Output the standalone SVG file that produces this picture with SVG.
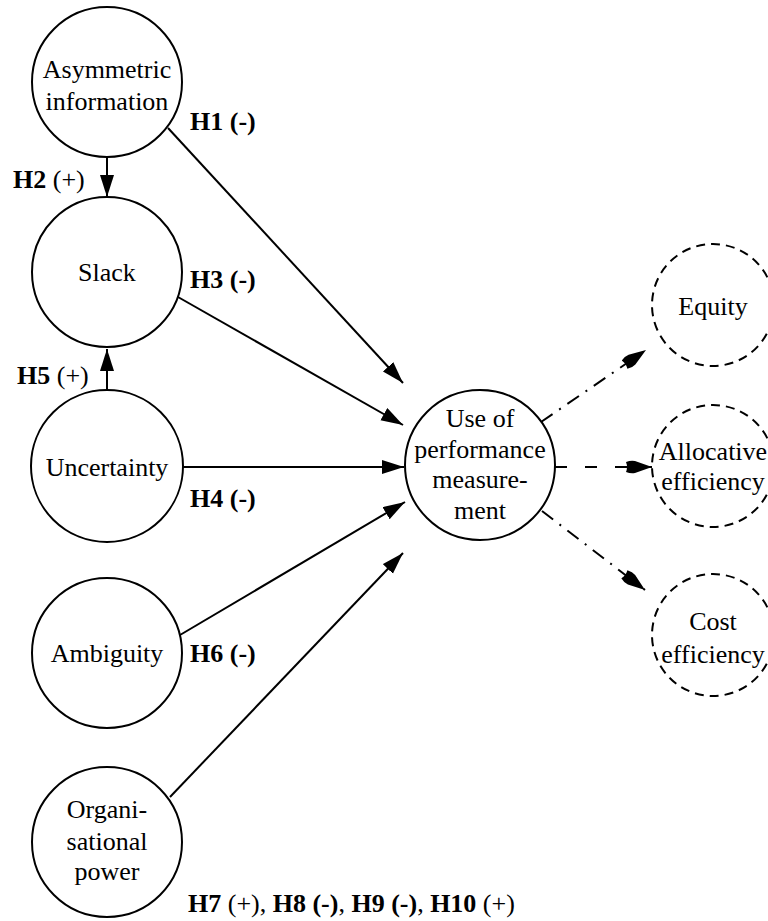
<svg xmlns="http://www.w3.org/2000/svg" width="768" height="921" viewBox="0 0 768 921">
<style>
.n{fill:#fff;stroke:#000;stroke-width:2}
.d{fill:#fff;stroke:#000;stroke-width:2;stroke-dasharray:9,6}
.t{font-size:26px;fill:#000;text-anchor:middle}
.l{font-size:26px;fill:#000}
.b{font-weight:bold}
.c{stroke:#000;stroke-width:2;fill:none}
.dd{stroke-dasharray:14,8,2,8}
.da{stroke-dasharray:12,18}
</style>
<defs>
<marker id="a" markerUnits="userSpaceOnUse" markerWidth="24" markerHeight="16" refX="22" refY="7" orient="auto"><path d="M0,0 L22,7 L0,14 z" fill="#000"/></marker>
<marker id="s" markerUnits="userSpaceOnUse" markerWidth="28" markerHeight="16" refX="26" refY="7" orient="auto"><path d="M0,2 Q5,0 9,1 L26,7 L9,13 Q5,14 0,12 Q2,7 0,2 z" fill="#000"/></marker>
</defs>
<g id="connectors">
<line class="c" x1="168" y1="128" x2="403" y2="383" marker-end="url(#a)"/>
<line class="c" x1="107" y1="157" x2="107" y2="197" marker-end="url(#a)"/>
<line class="c" x1="178" y1="297" x2="403" y2="425" marker-end="url(#a)"/>
<line class="c" x1="107" y1="391" x2="107" y2="349" marker-end="url(#a)"/>
<line class="c" x1="183" y1="467" x2="404" y2="467" marker-end="url(#a)"/>
<line class="c" x1="180" y1="635" x2="405" y2="502" marker-end="url(#a)"/>
<line class="c" x1="170" y1="797" x2="403" y2="553" marker-end="url(#a)"/>
<line class="c dd" x1="541" y1="422" x2="646" y2="350" marker-end="url(#s)"/>
<line class="c da" x1="555" y1="467" x2="652" y2="467" marker-end="url(#s)"/>
<line class="c dd" x1="542" y1="511" x2="645" y2="590" marker-end="url(#s)"/>
</g>
<g font-family="'Liberation Serif', 'Times New Roman', serif">
<g id="asym"><circle class="n" cx="107" cy="82" r="75"/><text class="t" x="107" y="78">Asymmetric</text><text class="t" x="107" y="110">information</text></g>
<g id="slack"><circle class="n" cx="107" cy="272" r="75"/><text class="t" x="107" y="281">Slack</text></g>
<g id="uncertainty"><circle class="n" cx="107" cy="466" r="76"/><text class="t" x="107" y="476">Uncertainty</text></g>
<g id="ambiguity"><circle class="n" cx="107" cy="653" r="75"/><text class="t" x="107" y="662">Ambiguity</text></g>
<g id="power"><circle class="n" cx="107" cy="842" r="75"/><text class="t" x="107" y="818">Organi-</text><text class="t" x="107" y="850">sational</text><text class="t" x="107" y="880">power</text></g>
<g id="use"><circle class="n" cx="480" cy="465" r="75"/><text class="t" x="480" y="427">Use of</text><text class="t" x="480" y="458">performance</text><text class="t" x="480" y="488">measure-</text><text class="t" x="480" y="519">ment</text></g>
<g id="equity"><circle class="d" cx="713" cy="305" r="61"/><text class="t" x="713" y="315">Equity</text></g>
<g id="alloc"><circle class="d" cx="713" cy="466" r="61"/><text class="t" x="713" y="460">Allocative</text><text class="t" x="713" y="490">efficiency</text></g>
<g id="cost"><circle class="d" cx="713" cy="635" r="61"/><text class="t" x="713" y="630">Cost</text><text class="t" x="713" y="663">efficiency</text></g>
<g id="labels">
<text class="l b" x="190" y="130">H1 (-)</text>
<text class="l" x="13" y="188"><tspan class="b">H2</tspan> (+)</text>
<text class="l b" x="190" y="288">H3 (-)</text>
<text class="l" x="17" y="384"><tspan class="b">H5</tspan> (+)</text>
<text class="l b" x="190" y="507">H4 (-)</text>
<text class="l b" x="190" y="662">H6 (-)</text>
<text class="l" x="188" y="912"><tspan class="b">H7</tspan> (+), <tspan class="b">H8 (-)</tspan>, <tspan class="b">H9 (-)</tspan>, <tspan class="b">H10</tspan> (+)</text>
</g>
</g>
</svg>
